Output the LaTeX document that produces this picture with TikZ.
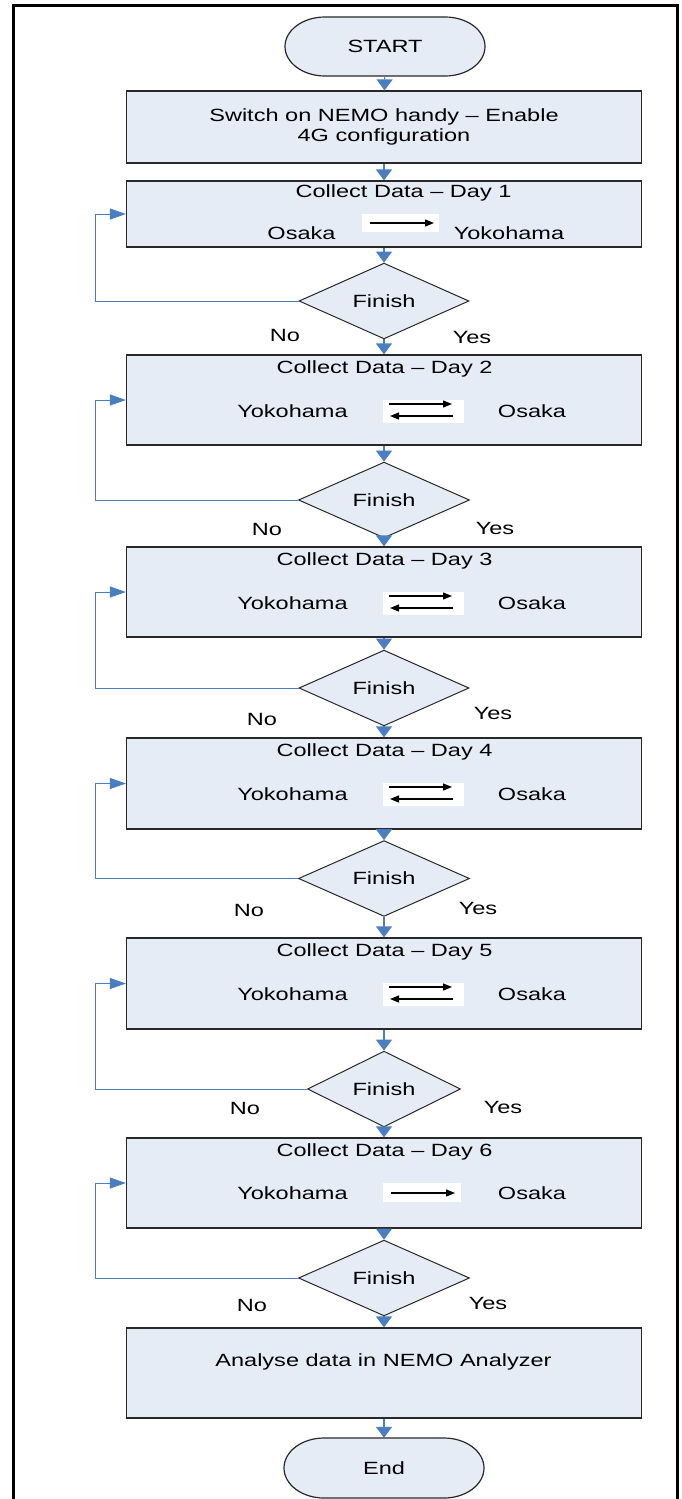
\documentclass[tikz,border=0pt]{standalone}
\usepackage{fontspec}
\setmainfont{Liberation Sans}
\usepackage{graphicx}
\usetikzlibrary{shapes.geometric,arrows.meta}
\definecolor{boxfill}{RGB}{230,236,246}
\definecolor{conn}{RGB}{74,126,193}
\definecolor{boxline}{RGB}{40,40,40}
\newcommand{\hs}[1]{\scalebox{1.33}[1]{#1}}
\begin{document}
\begin{tikzpicture}[x=1pt,y=-1pt,
  font=\fontsize{17.7}{20}\selectfont,
  box/.style={draw=boxline,fill=boxfill,line width=1.2pt,minimum width=515pt,inner sep=0pt},
  dia/.style={diamond,draw=boxline,fill=boxfill,line width=1pt,inner sep=0pt},
  term/.style={inner sep=0pt,minimum width=215pt,minimum height=60pt},
  termshape/.style={draw=boxline,fill=boxfill,line width=1.2pt},
  txt/.style={inner sep=0pt},
  vflow/.style={draw=conn,line width=1.2pt,-{Triangle[length=11pt,width=16pt]}},
  hflow/.style={draw=conn,line width=1pt,-{Triangle[length=16pt,width=11pt]}},
  icon/.style={fill=white,inner sep=0pt},
  iarr/.style={draw=black,line width=1.3pt,-{Triangle[length=9pt,width=7pt]}}]
\useasboundingbox (0,0) rectangle (681,1499);
% outer frame
\draw[line width=3pt] (13,1499) -- (13,5) -- (677,5) -- (677,1499);
\coordinate (lx) at (95,0);

% START
\draw[termshape] (325,17) -- (445,17) arc[start angle=-90,end angle=90,x radius=40,y radius=29.5] -- (325,76) arc[start angle=90,end angle=270,x radius=40,y radius=29.5] -- cycle;
\node[term] (start) at (385,46.5) {\hs{START}};

% Box 0
\node[box,minimum height=72pt,align=center] (b0) at (384,127) {\hs{Switch on NEMO handy -- Enable}\\\hs{4G configuration}};

% Day 1
\node[box,minimum height=66pt] (b1) at (384,214) {};
\node[txt] (t1) at (403.5,193) {\hs{Collect Data -- Day 1}};
\node[txt] (o1) at (301.5,233) {\hs{Osaka}};
\node[txt] (y1) at (509,233) {\hs{Yokohama}};
\node[icon,minimum width=77pt,minimum height=18pt] (ic1) at (400.5,223) {};
\draw[iarr] ([xshift=-30.5pt]ic1.center) -- ([xshift=33.5pt]ic1.center);
\node[dia,minimum width=170pt,minimum height=72pt] (d1) at (384,301) {\hs{Finish}};
\node[txt] (n1) at (285,335) {\hs{No}};
\node[txt] (s1) at (472,337) {\hs{Yes}};

% Day 2
\node[box,minimum height=90pt] (b2) at (384,400) {};
\node[txt] (t2) at (384.5,369) {\hs{Collect Data -- Day 2}};
\node[txt] (y2) at (292.5,411) {\hs{Yokohama}};
\node[txt] (o2) at (532,411) {\hs{Osaka}};
\node[icon,minimum width=81pt,minimum height=23pt] (ic2) at (423.5,411.5) {};
\draw[iarr] ([xshift=-34.5pt,yshift=7.5pt]ic2.center) -- ([xshift=28.5pt,yshift=7.5pt]ic2.center);
\draw[iarr] ([xshift=29.5pt,yshift=-4.5pt]ic2.center) -- ([xshift=-33.5pt,yshift=-4.5pt]ic2.center);
\node[dia,minimum width=171pt,minimum height=72pt] (d2) at (384,500) {\hs{Finish}};
\node[txt] (n2) at (267,529) {\hs{No}};
\node[txt] (s2) at (495,528) {\hs{Yes}};

% Day 3
\node[box,minimum height=90pt] (b3) at (384,592) {};
\node[txt] (t3) at (384.5,561) {\hs{Collect Data -- Day 3}};
\node[txt] (y3) at (292.5,603) {\hs{Yokohama}};
\node[txt] (o3) at (532,603) {\hs{Osaka}};
\node[icon,minimum width=81pt,minimum height=23pt] (ic3) at (423.5,603.5) {};
\draw[iarr] ([xshift=-34.5pt,yshift=7.5pt]ic3.center) -- ([xshift=28.5pt,yshift=7.5pt]ic3.center);
\draw[iarr] ([xshift=29.5pt,yshift=-4.5pt]ic3.center) -- ([xshift=-33.5pt,yshift=-4.5pt]ic3.center);
\node[dia,minimum width=170pt,minimum height=71pt] (d3) at (384,688) {\hs{Finish}};
\node[txt] (n3) at (262,719) {\hs{No}};
\node[txt] (s3) at (493,713) {\hs{Yes}};

% Day 4
\node[box,minimum height=91pt] (b4) at (384,783.5) {};
\node[txt] (t4) at (384.5,752) {\hs{Collect Data -- Day 4}};
\node[txt] (y4) at (292.5,794) {\hs{Yokohama}};
\node[txt] (o4) at (532,794) {\hs{Osaka}};
\node[icon,minimum width=81pt,minimum height=23pt] (ic4) at (423.5,794.5) {};
\draw[iarr] ([xshift=-34.5pt,yshift=7.5pt]ic4.center) -- ([xshift=28.5pt,yshift=7.5pt]ic4.center);
\draw[iarr] ([xshift=29.5pt,yshift=-4.5pt]ic4.center) -- ([xshift=-33.5pt,yshift=-4.5pt]ic4.center);
\node[dia,minimum width=171pt,minimum height=71pt] (d4) at (384,878.5) {\hs{Finish}};
\node[txt] (n4) at (249,910) {\hs{No}};
\node[txt] (s4) at (478,908) {\hs{Yes}};

% Day 5
\node[box,minimum height=91pt] (b5) at (384,983.5) {};
\node[txt] (t5) at (384.5,952) {\hs{Collect Data -- Day 5}};
\node[txt] (y5) at (292.5,994) {\hs{Yokohama}};
\node[txt] (o5) at (532,994) {\hs{Osaka}};
\node[icon,minimum width=81pt,minimum height=23pt] (ic5) at (423.5,994.5) {};
\draw[iarr] ([xshift=-34.5pt,yshift=7.5pt]ic5.center) -- ([xshift=28.5pt,yshift=7.5pt]ic5.center);
\draw[iarr] ([xshift=29.5pt,yshift=-4.5pt]ic5.center) -- ([xshift=-33.5pt,yshift=-4.5pt]ic5.center);
\node[dia,minimum width=153pt,minimum height=64pt] (d5) at (384,1089) {\hs{Finish}};
\node[txt] (n5) at (245,1108) {\hs{No}};
\node[txt] (s5) at (503,1107) {\hs{Yes}};

% Day 6
\node[box,minimum height=90pt] (b6) at (384,1183) {};
\node[txt] (t6) at (384.5,1152) {\hs{Collect Data -- Day 6}};
\node[txt] (y6) at (292.5,1193) {\hs{Yokohama}};
\node[txt] (o6) at (532,1193) {\hs{Osaka}};
\node[icon,minimum width=78pt,minimum height=19pt] (ic6) at (422,1192.5) {};
\draw[iarr] ([xshift=-31pt,yshift=-0.5pt]ic6.center) -- ([xshift=33pt,yshift=-0.5pt]ic6.center);
\node[dia,minimum width=171pt,minimum height=70pt] (d6) at (384,1278) {\hs{Finish}};
\node[txt] (n6) at (252,1305) {\hs{No}};
\node[txt] (s6) at (488,1303) {\hs{Yes}};

% Final
\node[box,minimum height=90pt] (b7) at (384,1373) {};
\node[txt] (t7) at (383.5,1362) {\hs{Analyse data in NEMO Analyzer}};

% End
\draw[termshape] (324,1438) -- (444,1438) arc[start angle=-90,end angle=90,x radius=40,y radius=30] -- (324,1498) arc[start angle=90,end angle=270,x radius=40,y radius=30] -- cycle;
\node[term] (end) at (384,1468) {\hs{End}};

% vertical flow
\draw[vflow] (start) -- (b0);
\draw[vflow] (b0) -- (b1);
\draw[vflow] (b1) -- (d1);
\draw[vflow] (d1) -- (b2);
\draw[vflow] (b2) -- (d2);
\draw[vflow] (d2) -- (b3);
\draw[vflow] (b3) -- (d3);
\draw[vflow] (d3) -- (b4);
\draw[vflow] (b4) -- (d4);
\draw[vflow] (d4) -- (b5);
\draw[vflow] (b5) -- (d5);
\draw[vflow] (d5) -- (b6);
\draw[vflow] (b6) -- (d6);
\draw[vflow] (d6) -- (b7);
\draw[vflow] (b7) -- (end);

% loops
\draw[hflow] (d1.west) -- (d1.west -| lx) |- (b1.west);
\draw[hflow] (d2.west) -- (d2.west -| lx) |- (b2.west);
\draw[hflow] (d3.west) -- (d3.west -| lx) |- (b3.west);
\draw[hflow] (d4.west) -- (d4.west -| lx) |- (b4.west);
\draw[hflow] (d5.west) -- (d5.west -| lx) |- (b5.west);
\draw[hflow] (d6.west) -- (d6.west -| lx) |- (b6.west);
\end{tikzpicture}
\end{document}
